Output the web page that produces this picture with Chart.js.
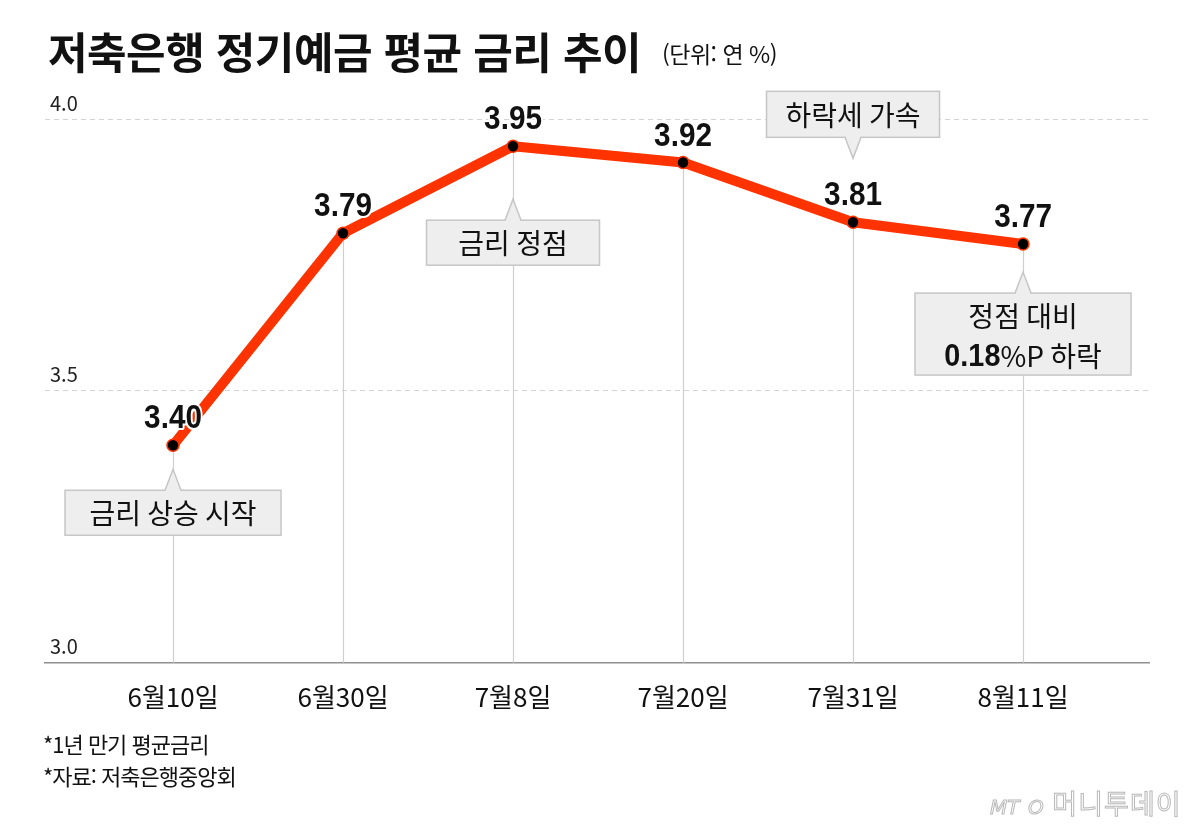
<!DOCTYPE html>
<html lang="ko">
<head>
<meta charset="utf-8">
<title>저축은행 정기예금 평균 금리 추이</title>
<script src="https://cdn.jsdelivr.net/npm/chart.js@4/dist/chart.umd.min.js"></script>
<style>
  html, body { margin: 0; padding: 0; background: #fff; }
  #wrap { position: relative; width: 1200px; height: 827px; overflow: hidden; }
  #wrap canvas { position: absolute; left: 0; top: 0; }
  .txt { position: absolute; white-space: nowrap; font-family: 'Noto Sans CJK KR', sans-serif; color: #111; }
  #title { left: 48px; top: 26px; font-size: 43px; line-height: 48px; font-weight: 700; letter-spacing: -0.5px; }
  #unit { left: 662px; top: 38px; font-size: 23px; line-height: 30px; letter-spacing: -0.5px; }
  #note1 { left: 43px; top: 728px; font-size: 22px; line-height: 30px; letter-spacing: -1px; }
  #note2 { left: 43px; top: 760px; font-size: 22px; line-height: 30px; letter-spacing: -1px; }
  #logo { left: 990px; top: 786px; font-size: 27px; line-height: 34px; color: #fff; -webkit-text-stroke: 1px #b8b8b8; letter-spacing: 1px; }
  #logo i { font-family: 'DejaVu Sans', sans-serif; font-size: 20px; letter-spacing: 0; }
</style>
</head>
<body>
<div id="wrap">
  <canvas id="myChart" width="1200" height="827"></canvas>
  <div class="txt" id="title">저축은행 정기예금 평균 금리 추이</div>
  <div class="txt" id="unit">(단위: 연 %)</div>
  <div class="txt" id="note1">*1년 만기 평균금리</div>
  <div class="txt" id="note2">*자료: 저축은행중앙회</div>
  <div class="txt" id="logo"><i>MT</i> <i>O</i> 머니투데이</div>
</div>
<script>
/*** data ***/
const categories = ["6월10일", "6월30일", "7월8일", "7월20일", "7월31일", "8월11일"];
const rates = [3.40, 3.79, 3.95, 3.92, 3.81, 3.77];
const yTicks = [3.0, 3.5, 4.0];

const KR = "'Noto Sans CJK KR', sans-serif";
const NUM = "'Liberation Sans', Arial, sans-serif";

// callout boxes, attached to a point by its index
const callouts = [
  { index: 0, side: "below", gap: 24, w: 216, h: 45, lines: [[{ t: "금리 상승 시작" }]] },
  { index: 2, side: "below", gap: 53, w: 173, h: 45, lines: [[{ t: "금리 정점" }]] },
  { index: 4, side: "above", gap: 64, w: 173, h: 46, lines: [[{ t: "하락세 가속" }]] },
  { index: 5, side: "below", gap: 28, w: 216, h: 82,
    lines: [[{ t: "정점 대비" }], [{ t: "0.18", b: true }, { t: "%P 하락" }]] },
];

// bold numbers are drawn a bit condensed, like the original typeface
const NARROW = 0.9;

function runFont(r) {
  return r.b ? "bold 32px " + NUM : "28px " + KR;
}
function runWidth(ctx, r) {
  ctx.font = runFont(r);
  return ctx.measureText(r.t).width * (r.b ? NARROW : 1);
}

function drawCallout(ctx, cx, tipY, c) {
  const dir = c.side === "below" ? 1 : -1;
  const edge = tipY + dir * 21;
  const top = dir > 0 ? edge : edge - c.h;
  const left = cx - c.w / 2;
  ctx.save();
  ctx.fillStyle = "#eeeeef";
  ctx.strokeStyle = "#c6c6c6";
  ctx.lineWidth = 1.5;
  ctx.fillRect(left, top, c.w, c.h);
  ctx.strokeRect(left, top, c.w, c.h);
  // pointer
  ctx.beginPath();
  ctx.moveTo(cx - 8, edge);
  ctx.lineTo(cx, tipY);
  ctx.lineTo(cx + 8, edge);
  ctx.closePath();
  ctx.fill();
  ctx.fillRect(cx - 7, edge - 1.5, 14, 3);
  ctx.beginPath();
  ctx.moveTo(cx - 8, edge);
  ctx.lineTo(cx, tipY);
  ctx.lineTo(cx + 8, edge);
  ctx.stroke();
  // text
  ctx.fillStyle = "#111";
  ctx.textBaseline = "middle";
  ctx.textAlign = "left";
  const n = c.lines.length;
  c.lines.forEach((runs, li) => {
    const y = n === 1 ? top + c.h / 2 + 1 : top + 23 + li * 40;
    let total = 0;
    runs.forEach(r => { total += runWidth(ctx, r); });
    let x = cx - total / 2;
    runs.forEach(r => {
      const w = runWidth(ctx, r);
      ctx.save();
      ctx.translate(x, r.b ? y + 1 : y);
      if (r.b) ctx.scale(NARROW, 1);
      ctx.fillText(r.t, 0, 0);
      ctx.restore();
      x += w;
    });
  });
  ctx.restore();
}

const annotate = {
  id: "annotate",
  beforeDatasetsDraw(chart) {
    // thin grey drop lines from each point to the axis
    const { ctx, scales: { x, y } } = chart;
    ctx.save();
    ctx.strokeStyle = "#cfcfcf";
    ctx.lineWidth = 1.2;
    rates.forEach((v, i) => {
      const px = Math.round(x.getPixelForValue(i)) + 0.5;
      ctx.beginPath();
      ctx.moveTo(px, y.getPixelForValue(v));
      ctx.lineTo(px, y.getPixelForValue(3.0));
      ctx.stroke();
    });
    ctx.restore();
  },
  afterDatasetsDraw(chart) {
    const { ctx, scales: { x, y } } = chart;
    callouts.forEach(c => {
      const cx = x.getPixelForValue(c.index);
      const py = y.getPixelForValue(rates[c.index]);
      const tipY = c.side === "below" ? py + c.gap : py - c.gap;
      drawCallout(ctx, cx, tipY, c);
    });
    // value labels
    ctx.save();
    ctx.font = "bold 33px " + NUM;
    ctx.textAlign = "center";
    ctx.textBaseline = "alphabetic";
    ctx.lineJoin = "round";
    rates.forEach((v, i) => {
      const px = x.getPixelForValue(i);
      const py = y.getPixelForValue(v) - 17;
      ctx.save();
      ctx.translate(px, py);
      ctx.scale(NARROW, 1);
      ctx.strokeStyle = "#fff";
      ctx.lineWidth = 4;
      ctx.strokeText(v.toFixed(2), 0, 0);
      ctx.fillStyle = "#111";
      ctx.fillText(v.toFixed(2), 0, 0);
      ctx.restore();
    });
    ctx.restore();
  },
};

var ctx = document.getElementById("myChart").getContext("2d");
var chart = new Chart(ctx, {
  type: "line",
  data: {
    datasets: [
      {
        label: "정기예금 평균 금리",
        data: rates.map((v, i) => ({ x: i, y: v })),
        borderColor: "#ff3300",
        borderWidth: 10,
        borderCapStyle: "round",
        borderJoinStyle: "round",
        tension: 0,
        fill: false,
        pointRadius: 6,
        pointBorderWidth: 1.5,
        pointBackgroundColor: "#000",
        pointBorderColor: "#ff3300",
      },
    ],
  },
  options: {
    responsive: false,
    animation: false,
    layout: { padding: { top: 119, left: 35, right: 51, bottom: 95 } },
    plugins: {
      legend: { display: false },
      tooltip: { enabled: false },
    },
    scales: {
      x: {
        type: "linear",
        min: -0.753,
        max: 5.741,
        afterBuildTicks: s => { s.ticks = categories.map((c, i) => ({ value: i })); },
        grid: { display: false, drawTicks: false },
        border: { display: true, color: "#8f8f8f", width: 1.5 },
        ticks: {
          autoSkip: false,
          maxRotation: 0,
          padding: 19,
          color: "#111",
          font: { family: KR, size: 26 },
          callback: v => categories[v],
        },
      },
      y: {
        min: 3.0,
        max: 4.0,
        afterBuildTicks: s => { s.ticks = yTicks.map(v => ({ value: v })); },
        grid: { color: "#d4d4d4", lineWidth: 1, drawTicks: false },
        border: { display: false, dash: [5, 4] },
        ticks: {
          mirror: true,
          padding: 5,
          labelOffset: -16,
          color: "#222",
          font: { family: KR, size: 20 },
          callback: v => v.toFixed(1),
        },
      },
    },
  },
  plugins: [annotate],
});
</script>
</body>
</html>
